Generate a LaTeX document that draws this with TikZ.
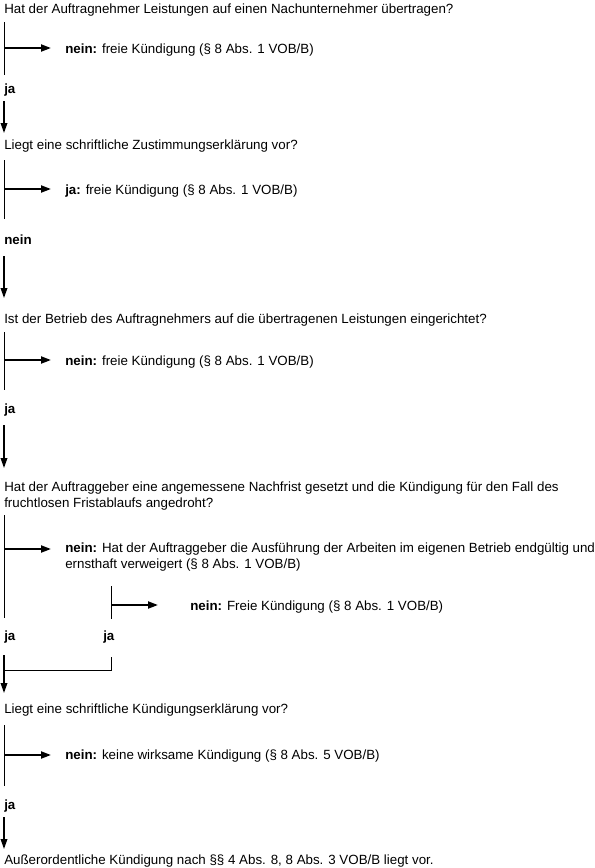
\documentclass[tikz,border=0pt]{standalone}
\usepackage{fontspec}
\setmainfont{Liberation Sans}
\usetikzlibrary{arrows.meta}
\begin{document}
\begin{tikzpicture}[x=0.75pt,y=-0.75pt,
  txt/.style={anchor=base west,inner sep=0pt,align=left,font=\fontsize{10pt}{12pt}\selectfont},
  vline/.style={line width=0.75pt},
  harrow/.style={line width=1.5pt,-{Triangle[length=7.5pt,width=5.25pt]}},
  darrow/.style={line width=1pt,-{Triangle[length=7.5pt,width=5pt]}}]
\useasboundingbox (0,0) rectangle (595,868);
% Block 1
\node[txt] (q1) at (4,13) {Hat der Auftragnehmer Leistungen auf einen Nachunternehmer übertragen?};
\coordinate (v1t) at (4,22); \coordinate (v1b) at (4,75);
\draw[vline] (v1t) -- (v1b);
\coordinate (h1s) at (4,48); \coordinate (h1e) at (51,48);
\draw[harrow] (h1s) -- (h1e);
\node[txt] (a1) at (65,53) {\textbf{nein:} freie Kündigung (§ 8 Abs. 1 VOB/B)};
\node[txt] (l1) at (4,93) {\textbf{ja}};
\coordinate (d1s) at (4,101); \coordinate (d1e) at (4,133);
\draw[darrow] (d1s) -- (d1e);
% Block 2
\node[txt] (q2) at (4,149) {Liegt eine schriftliche Zustimmungserklärung vor?};
\coordinate (v2t) at (4,160); \coordinate (v2b) at (4,219);
\draw[vline] (v2t) -- (v2b);
\coordinate (h2s) at (4,189); \coordinate (h2e) at (51,189);
\draw[harrow] (h2s) -- (h2e);
\node[txt] (a2) at (65,194) {\textbf{ja:} freie Kündigung (§ 8 Abs. 1 VOB/B)};
\node[txt] (l2) at (4,244) {\textbf{nein}};
\coordinate (d2s) at (4,256); \coordinate (d2e) at (4,298);
\draw[darrow] (d2s) -- (d2e);
% Block 3
\node[txt] (q3) at (4,323) {Ist der Betrieb des Auftragnehmers auf die übertragenen Leistungen eingerichtet?};
\coordinate (v3t) at (4,332); \coordinate (v3b) at (4,390);
\draw[vline] (v3t) -- (v3b);
\coordinate (h3s) at (4,360); \coordinate (h3e) at (51,360);
\draw[harrow] (h3s) -- (h3e);
\node[txt] (a3) at (65,365) {\textbf{nein:} freie Kündigung (§ 8 Abs. 1 VOB/B)};
\node[txt] (l3) at (4,413) {\textbf{ja}};
\coordinate (d3s) at (4,425); \coordinate (d3e) at (4,468);
\draw[darrow] (d3s) -- (d3e);
% Block 4
\node[txt] (q4) at (4,507) {Hat der Auftraggeber eine angemessene Nachfrist gesetzt und die Kündigung für den Fall des\\fruchtlosen Fristablaufs angedroht?};
\coordinate (v4t) at (4,515); \coordinate (v4b) at (4,618);
\draw[vline] (v4t) -- (v4b);
\coordinate (h4s) at (4,549); \coordinate (h4e) at (51,549);
\draw[harrow] (h4s) -- (h4e);
\node[txt] (a4) at (65,568) {\textbf{nein:} Hat der Auftraggeber die Ausführung der Arbeiten im eigenen Betrieb endgültig und\\ernsthaft verweigert (§ 8 Abs. 1 VOB/B)};
\coordinate (v5t) at (111,586); \coordinate (v5b) at (111,619);
\draw[vline] (v5t) -- (v5b);
\coordinate (h5s) at (111,605); \coordinate (h5e) at (158,605);
\draw[harrow] (h5s) -- (h5e);
\node[txt] (a5) at (190,610) {\textbf{nein:} Freie Kündigung (§ 8 Abs. 1 VOB/B)};
\node[txt] (l4) at (4,640) {\textbf{ja}};
\node[txt] (l5) at (103,640) {\textbf{ja}};
\coordinate (j1) at (111,657); \coordinate (j2) at (111,670); \coordinate (j3) at (4,670);
\draw[vline] (j1) -- (j2) -- (j3);
\coordinate (d4s) at (4,655); \coordinate (d4e) at (4,693);
\draw[darrow] (d4s) -- (d4e);
% Block 5
\node[txt] (q5) at (4,713) {Liegt eine schriftliche Kündigungserklärung vor?};
\coordinate (v6t) at (4,725); \coordinate (v6b) at (4,786);
\draw[vline] (v6t) -- (v6b);
\coordinate (h6s) at (4,755); \coordinate (h6e) at (51,755);
\draw[harrow] (h6s) -- (h6e);
\node[txt] (a6) at (65,759) {\textbf{nein:} keine wirksame Kündigung (§ 8 Abs. 5 VOB/B)};
\node[txt] (l6) at (4,809) {\textbf{ja}};
\coordinate (d5s) at (4,817); \coordinate (d5e) at (4,849);
\draw[darrow] (d5s) -- (d5e);
\node[txt] (fin) at (4,864) {Außerordentliche Kündigung nach §§ 4 Abs. 8, 8 Abs. 3 VOB/B liegt vor.};
\end{tikzpicture}
\end{document}
